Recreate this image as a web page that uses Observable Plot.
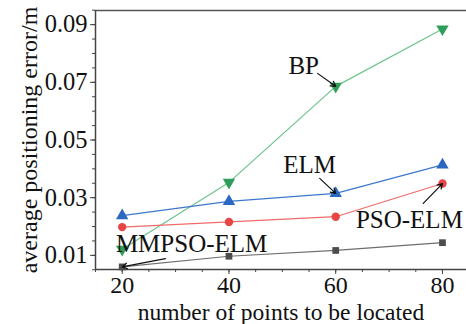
<!DOCTYPE html>
<html>
<head>
<meta charset="utf-8">
<script src="https://cdn.jsdelivr.net/npm/d3@7"></script>
<script src="https://cdn.jsdelivr.net/npm/@observablehq/plot@0.6"></script>
<style>
  html, body { margin: 0; padding: 0; background: #fff; }
</style>
</head>
<body>
<div id="chart"></div>
<script>
const points = [20, 40, 60, 80];
const bp = [0.0121, 0.0353, 0.0686, 0.0885];
const elm = [0.0238, 0.0287, 0.0315, 0.0414];
const psoElm = [0.0198, 0.0216, 0.0234, 0.0349];
const mmpsoElm = [0.0060, 0.0097, 0.0117, 0.0144];

const xTicks = [20, 40, 60, 80];
const yTicks = [0.01, 0.03, 0.05, 0.07, 0.09];

const seriesNames = ["BP", "ELM", "PSO-ELM", "MMPSO-ELM"];
const seriesValues = [bp, elm, psoElm, mmpsoElm];
const lineColors = ["#6cc48e", "#3d78cc", "#f06a6a", "#6e6e6e"];
const dotColors = ["#2f9e5a", "#2a68c2", "#e84545", "#4d4d4d"];
const symbols = ["triangle", "triangle", "circle", "square"];
const rotations = [180, 0, 0, 0];
const radii = [4.6, 4.6, 4.2, 3.8];

// annotation label positions (data units), arrow tails and the point index each arrow targets
const labelX = [54, 55.1, 73.8, 33.0];
const labelY = [0.0755, 0.0415, 0.0224, 0.0141];
const arrowX1 = [56.6, 57.0, 76.4, 28.1];
const arrowY1 = [0.0731, 0.0367, 0.0280, 0.0089];
const arrowTarget = [2, 2, 3, 0];
const arrowInset = [3, 3, 4, 3];

const xDomain = [15, 84.5];
const yDomain = [0.0051, 0.0949];

const data = [];
seriesNames.forEach((s, i) => points.forEach((p, j) =>
  data.push({series: s, x: p, y: seriesValues[i][j], i})));

const labels = seriesNames.map((s, i) => ({
  name: s, x: labelX[i], y: labelY[i],
  x1: arrowX1[i], y1: arrowY1[i],
  x2: points[arrowTarget[i]],
  y2: seriesValues[i][arrowTarget[i]],
  inset: arrowInset[i]
}));

const marks = [];
// minor ticks
marks.push(Plot.axisX({ticks: d3.range(15, 85, 5), tickSize: 3, tickFormat: () => "", stroke: "#444", label: null}));
marks.push(Plot.axisY({ticks: d3.range(0.005, 0.0951, 0.005), tickSize: 3, tickFormat: () => "", stroke: "#444", label: null}));
// major ticks
marks.push(Plot.axisX({ticks: xTicks, tickSize: 5, tickPadding: 1, stroke: "#444", fill: "#111", fontSize: 24, label: null}));
marks.push(Plot.axisY({ticks: yTicks, tickSize: 5, tickPadding: 3, stroke: "#444", fill: "#111", fontSize: 24.5,
  tickFormat: d3.format(".2f"), label: null}));
// axis titles
marks.push(Plot.axisX({ticks: [], fill: "#111", fontSize: 23.5,
  label: "number of points to be located", labelAnchor: "center", labelArrow: "none", labelOffset: 50}));
marks.push(Plot.axisY({ticks: [], fill: "#111", fontSize: 24,
  label: "average positioning error/m", labelAnchor: "center", labelArrow: "none", labelOffset: 76}));
// frame lines
marks.push(Plot.ruleY([yDomain[0]], {stroke: "#444", strokeWidth: 1.5}));
marks.push(Plot.ruleY([yDomain[1]], {stroke: "#555", strokeWidth: 1.5}));
marks.push(Plot.ruleX([xDomain[0]], {stroke: "#444", strokeWidth: 1.5}));

seriesNames.forEach((s, i) => {
  const d = data.filter(r => r.i === i);
  marks.push(Plot.line(d, {x: "x", y: "y", stroke: lineColors[i], strokeWidth: 1.2}));
  marks.push(Plot.dot(d, {x: "x", y: "y", symbol: () => symbols[i], fill: dotColors[i], stroke: "none", r: radii[i], rotate: rotations[i]}));
});

marks.push(Plot.arrow(labels, {x1: "x1", y1: "y1", x2: "x2", y2: "y2", stroke: "#111", strokeWidth: 1.2, headLength: 7, insetEnd: d => d.inset}));
marks.push(Plot.text(labels, {x: "x", y: "y", text: "name", fill: "#111", fontSize: 25}));

const chart = Plot.plot({
  width: 466,
  height: 324,
  marginLeft: 95,
  marginRight: 0,
  marginTop: 10,
  marginBottom: 55,
  style: {fontFamily: "'Liberation Serif', 'Times New Roman', serif", fontSize: "24px", background: "#fff", color: "#111"},
  x: {domain: xDomain},
  y: {domain: yDomain},
  symbol: {type: "identity"},
  marks
});
document.getElementById("chart").appendChild(chart);
</script>
</body>
</html>
